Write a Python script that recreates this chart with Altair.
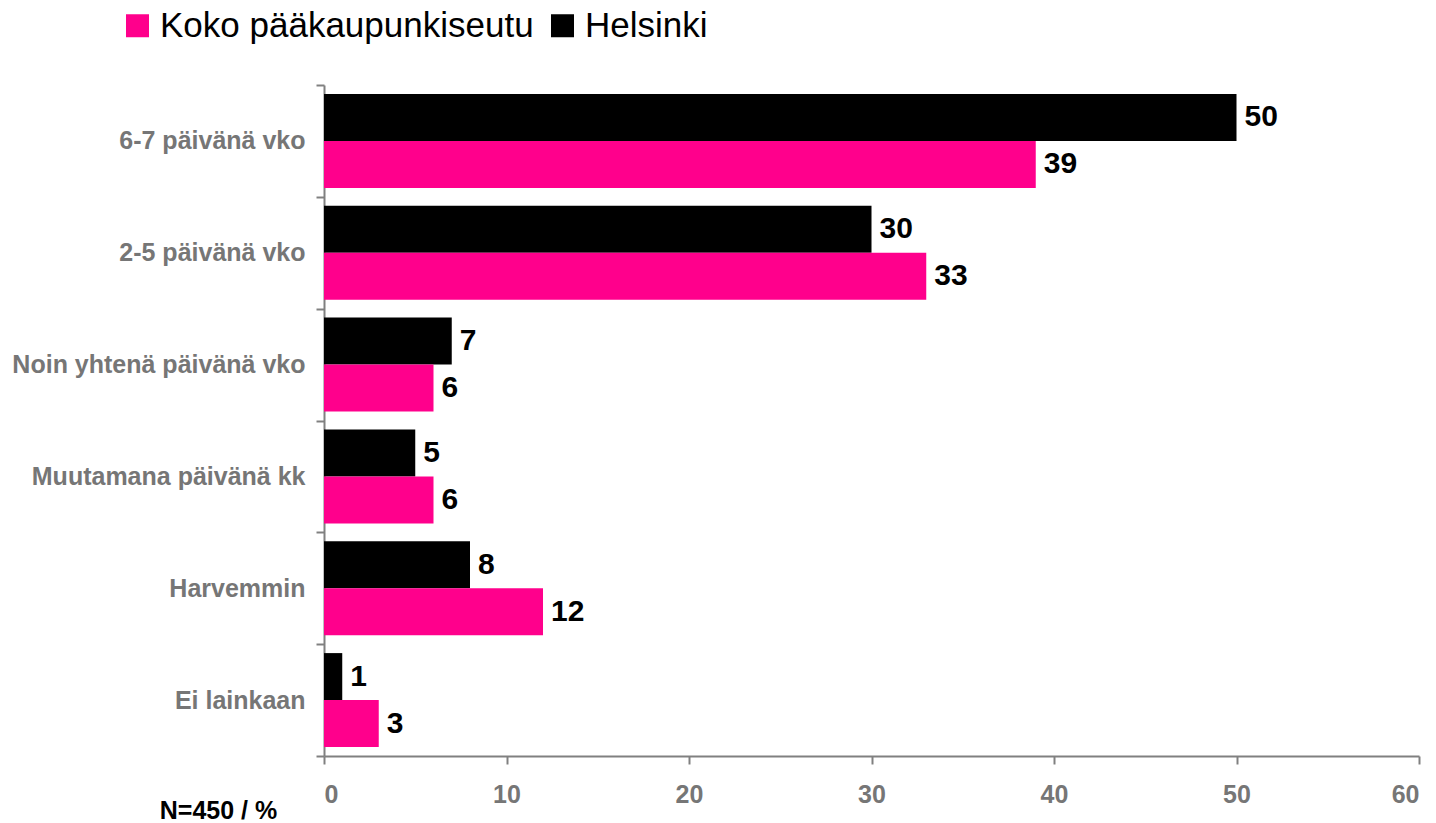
import altair as alt
import pandas as pd

categories = ["6-7 päivänä vko", "2-5 päivänä vko", "Noin yhtenä päivänä vko",
              "Muutamana päivänä kk", "Harvemmin", "Ei lainkaan"]
helsinki = [50, 30, 7, 5, 8, 1]
koko = [39, 33, 6, 6, 12, 3]
series = ["Koko pääkaupunkiseutu", "Helsinki"]
colors = ["#FF008C", "#000000"]
x_ticks = [0, 10, 20, 30, 40, 50, 60]

rows = []
for c, h, k in zip(categories, helsinki, koko):
    rows.append({"cat": c, "series": "Helsinki", "value": h})
    rows.append({"cat": c, "series": "Koko pääkaupunkiseutu", "value": k})
df = pd.DataFrame(rows)

FONT = "Liberation Sans"
GRAY = "#767676"
AX = "#808080"

y_enc = alt.Y("cat:N", sort=categories,
              scale=alt.Scale(paddingInner=0, paddingOuter=0),
              axis=alt.Axis(title=None, labelFont=FONT, labelFontSize=25,
                            labelFontWeight="bold", labelColor=GRAY,
                            labelPadding=11, tickSize=8, tickColor=AX,
                            tickWidth=2, domainColor=AX, domainWidth=2,
                            tickBand="extent", labelLimit=400))
yoff = alt.YOffset("series:N", sort=["Helsinki", "Koko pääkaupunkiseutu"],
                   scale=alt.Scale(paddingInner=0, paddingOuter=0.19))
x_enc = alt.X("value:Q", scale=alt.Scale(domain=[0, 60], nice=False),
              axis=alt.Axis(values=x_ticks, title="N=450 / %", grid=False,
                            labelFont=FONT, labelFontSize=25,
                            labelFontWeight="bold", labelColor=GRAY,
                            labelPadding=18, tickSize=8, tickColor=AX,
                            tickWidth=2, domainColor=AX, domainWidth=2,
                            titleFont=FONT, titleFontSize=25,
                            titleFontWeight="bold", titleColor="#000000",
                            titleX=-106, titleY=62, titleAlign="center",
                            titleBaseline="alphabetic"))

bars = alt.Chart(df).mark_bar().encode(
    y=y_enc, yOffset=yoff, x=x_enc,
    color=alt.Color("series:N",
                    scale=alt.Scale(domain=series, range=colors),
                    legend=alt.Legend(title=None, orient="none",
                                      direction="horizontal",
                                      legendX=-204, legendY=-77,
                                      symbolType="square", symbolSize=529,
                                      symbolStrokeWidth=0,
                                      labelFont=FONT, labelFontSize=35,
                                      labelLimit=600,
                                      labelColor="#000000", columnPadding=11,
                                      labelOffset=5)),
)

labels = alt.Chart(df).mark_text(
    align="left", baseline="middle", dx=8, font=FONT, fontSize=30,
    fontWeight="bold", color="#000000"
).encode(y=alt.Y("cat:N", sort=categories), yOffset=yoff,
         x="value:Q", text="value:Q")

chart = (bars + labels).properties(
    width=1095, height=671,
    autosize=alt.AutoSizeParams(type="none"),
    padding={"left": 324, "top": 85, "right": 17, "bottom": 67},
).configure_view(stroke=None)

chart.save("out.html", embed_options={"renderer": "svg", "actions": False})
